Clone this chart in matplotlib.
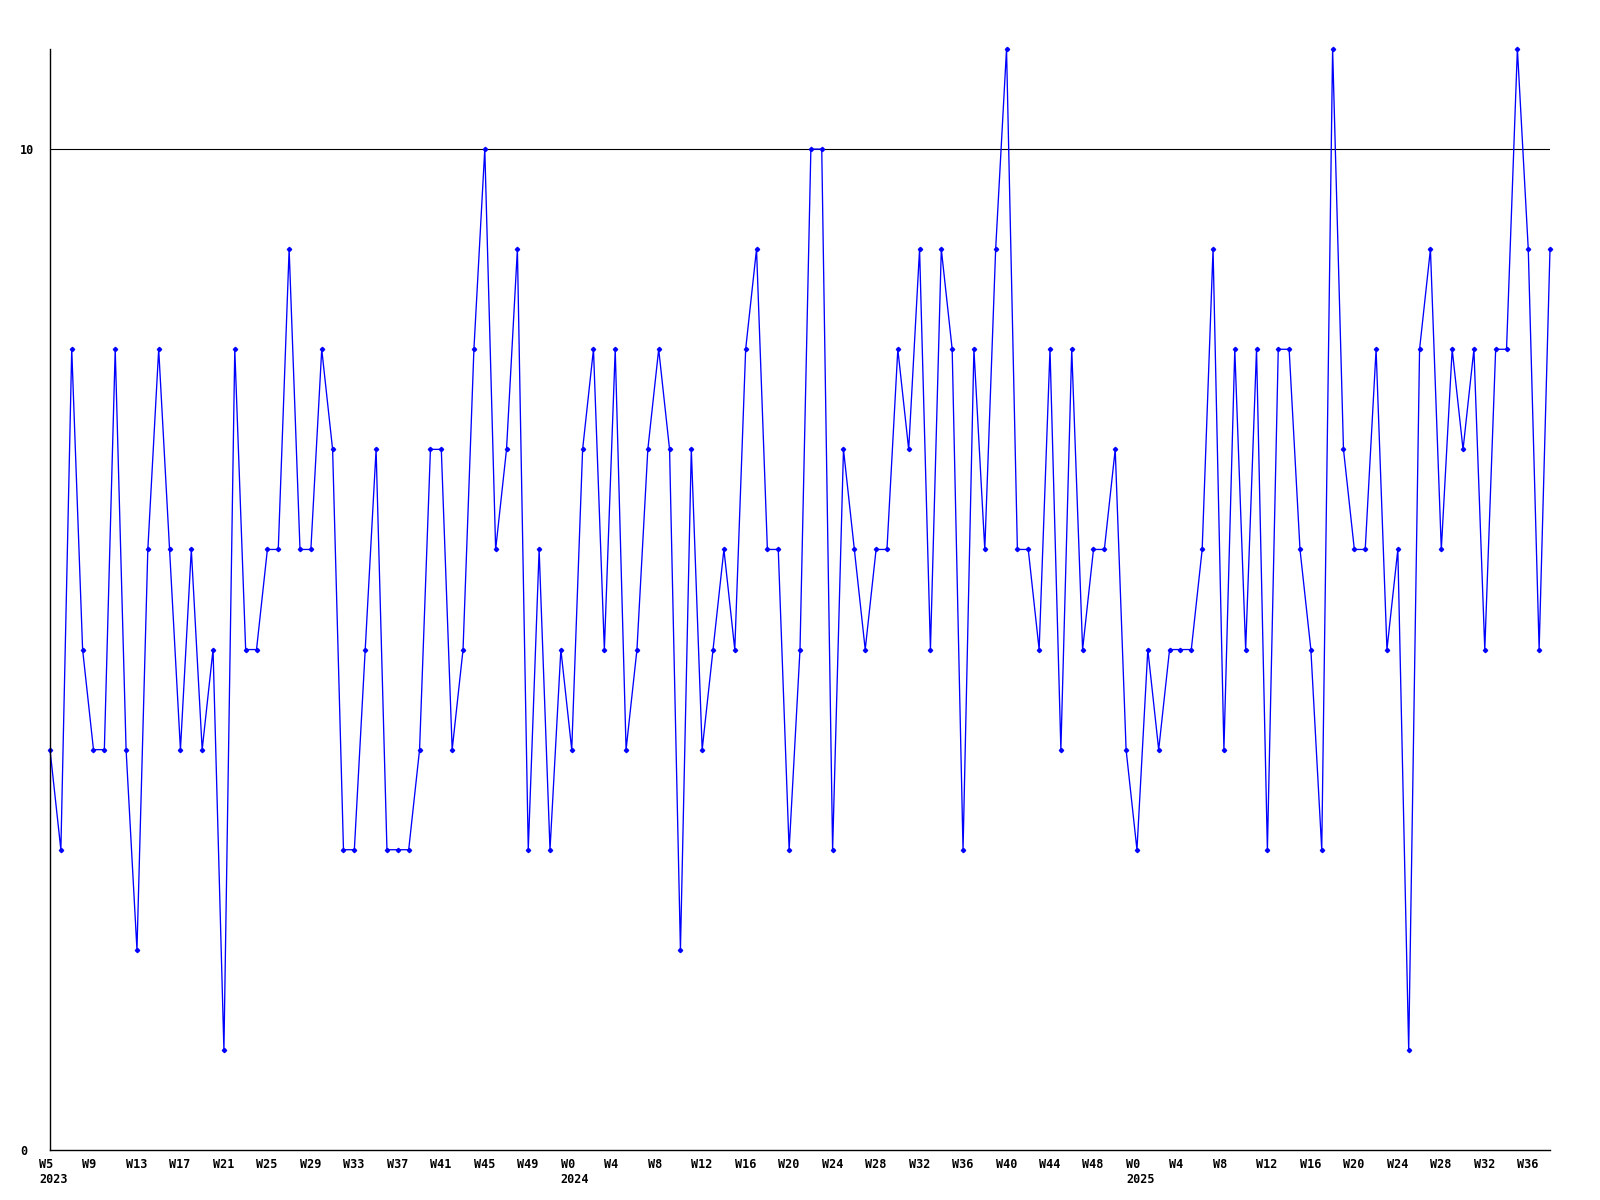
import matplotlib
matplotlib.use('Agg')
import matplotlib.pyplot as plt
import matplotlib.transforms as mtransforms

# weekly values, 2023 W5 .. 2025 W38
values = [4, 3, 8, 5, 4, 4, 8, 4, 2, 6,
          8, 6, 4, 6, 4, 5, 1, 8, 5, 5,
          6, 6, 9, 6, 6, 8, 7, 3, 3, 5,
          7, 3, 3, 3, 4, 7, 7, 4, 5, 8,
          10, 6, 7, 9, 3, 6, 3, 5, 4, 7,
          8, 5, 8, 4, 5, 7, 8, 7, 2, 7,
          4, 5, 6, 5, 8, 9, 6, 6, 3, 5,
          10, 10, 3, 7, 6, 5, 6, 6, 8, 7,
          9, 5, 9, 8, 3, 8, 6, 9, 11, 6,
          6, 5, 8, 4, 8, 5, 6, 6, 7, 4,
          3, 5, 4, 5, 5, 5, 6, 9, 4, 8,
          5, 8, 3, 8, 8, 6, 5, 3, 11, 7,
          6, 6, 8, 5, 6, 1, 8, 9, 6, 8,
          7, 8, 5, 8, 8, 11, 9, 5, 9]

weeks_2023 = list(range(5, 53))
weeks_2024 = list(range(0, 52))
weeks_2025 = list(range(0, 39))

year_names = ['2023', '2024', '2025']
week_lists = [weeks_2023, weeks_2024, weeks_2025]

week_nums = []
year_of = []
first_of_year = []
for yname, wl in zip(year_names, week_lists):
    first_of_year.append(len(week_nums))
    week_nums += wl
    year_of += [yname] * len(wl)

x = list(range(len(values)))

fig = plt.figure(figsize=(16, 12), dpi=100)
ax = fig.add_axes([50 / 1600, 50 / 1200, 1500 / 1600, 1101 / 1200])

ax.axhline(10, color='black', lw=0.8, zorder=1)
ax.plot(x, values, color='#0000ff', lw=0.95, marker='D', ms=2.2,
        zorder=2, clip_on=False)

ax.set_xlim(0, len(values) - 1)
ax.set_ylim(0, 11)

for side in ['top', 'right']:
    ax.spines[side].set_visible(False)
for side in ['left', 'bottom']:
    ax.spines[side].set_color('black')
    ax.spines[side].set_linewidth(1.0)

font = dict(family='DejaVu Sans Mono', weight='bold', size=8.5)

# x ticks every 4 weeks, year under first week of each year
tick_idx = list(range(0, len(values), 4))
tick_labels = []
for i in tick_idx:
    lab = 'W%d' % week_nums[i]
    if i in first_of_year:
        lab += '\n' + year_of[i]
    tick_labels.append(lab)
ax.set_xticks(tick_idx)
ax.set_xticklabels(tick_labels, fontdict=font, linespacing=1.2)
ax.tick_params(axis='x', length=0, pad=6)
offset = mtransforms.ScaledTranslation(-11 / 100, 0, fig.dpi_scale_trans)
for lbl in ax.get_xticklabels():
    lbl.set_horizontalalignment('left')
    lbl.set_transform(lbl.get_transform() + offset)

ax.set_yticks([0, 10])
ax.set_yticklabels(['0', '10'], fontdict=font)
ax.tick_params(axis='y', length=0, pad=30 * 0.72)
for lbl in ax.get_yticklabels():
    lbl.set_horizontalalignment('left')

fig.savefig('out.png', dpi=100, facecolor='white')
